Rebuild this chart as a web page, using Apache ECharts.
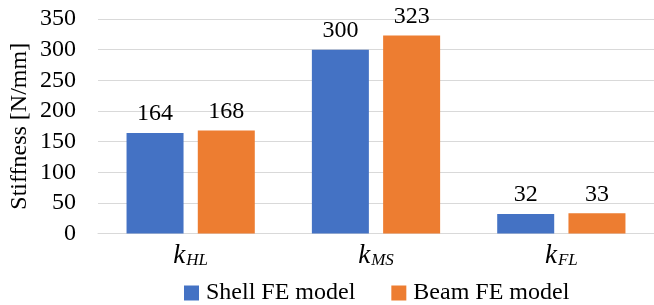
<!DOCTYPE html>
<html>
<head>
<meta charset="utf-8">
<script src="https://cdn.jsdelivr.net/npm/echarts@6/dist/echarts.min.js"></script>
<style>
  html, body { margin: 0; padding: 0; background: #fff; }
  #chart { width: 654px; height: 305px; }
</style>
</head>
<body>
<div id="chart"></div>
<script>
  var categories = ['HL', 'MS', 'FL'];
  var shellFE = [164, 300, 32];
  var beamFE = [168, 323, 33];
  var yTicks = { min: 0, max: 350, interval: 50 };

  var FONT = '"Liberation Serif", "Times New Roman", serif';

  var chart = echarts.init(document.getElementById('chart'));
  chart.setOption({
    animation: false,
    textStyle: { fontFamily: FONT, color: '#000' },
    grid: { left: 98, right: 0, top: 19, bottom: 71.5, outerBoundsMode: 'none', containLabel: false },
    legend: {
      left: 184,
      top: 281,
      padding: 0,
      itemWidth: 15,
      itemHeight: 15,
      itemGap: 36,
      icon: 'rect',
      textStyle: { fontFamily: FONT, fontSize: 24, color: '#000', padding: [0, 0, 0, 2] },
      data: ['Shell FE model', 'Beam FE model']
    },
    xAxis: {
      type: 'category',
      data: categories,
      axisLine: { lineStyle: { color: '#D9D9D9', width: 1 } },
      axisTick: { show: false },
      axisLabel: {
        margin: 9,
        formatter: function (v) { return '{k|k}{s|' + v + '}'; },
        rich: {
          k: { fontFamily: FONT, fontStyle: 'italic', fontSize: 27, color: '#000', verticalAlign: 'top' },
          s: { fontFamily: FONT, fontStyle: 'italic', fontSize: 17, color: '#000', padding: [10, 0, 0, 1], verticalAlign: 'top' }
        }
      }
    },
    yAxis: {
      type: 'value',
      min: yTicks.min,
      max: yTicks.max,
      interval: yTicks.interval,
      name: 'Stiffness [N/mm]',
      nameLocation: 'middle',
      nameGap: 66,
      nameMoveOverlap: false,
      nameTextStyle: { fontFamily: FONT, fontSize: 24, color: '#000' },
      axisLine: { show: false },
      axisTick: { show: false },
      axisLabel: { margin: 22, fontFamily: FONT, fontSize: 24, color: '#000' },
      splitLine: { lineStyle: { color: '#D9D9D9', width: 1 } }
    },
    series: [
      {
        name: 'Shell FE model',
        type: 'bar',
        data: shellFE,
        barWidth: 57,
        barGap: '25%',
        itemStyle: { color: '#4472C4' },
        label: { show: true, position: 'top', distance: 7, fontFamily: FONT, fontSize: 24, color: '#000' }
      },
      {
        name: 'Beam FE model',
        type: 'bar',
        data: beamFE,
        barWidth: 57,
        barGap: '25%',
        itemStyle: { color: '#ED7D31' },
        label: { show: true, position: 'top', distance: 7, fontFamily: FONT, fontSize: 24, color: '#000' }
      }
    ]
  });
</script>
</body>
</html>
